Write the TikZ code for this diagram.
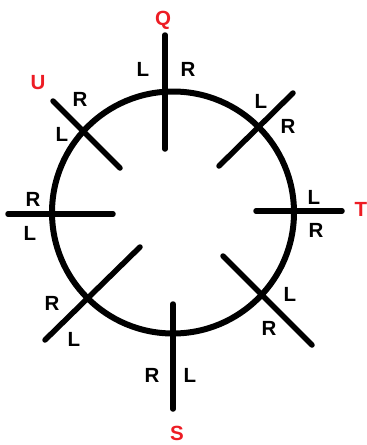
\documentclass[tikz,border=0pt]{standalone}
\usepackage{fontspec}
\setmainfont{Liberation Sans}
\definecolor{seatred}{RGB}{237,28,36}
\tikzset{
  ring/.style={draw,line width=6pt},
  spoke/.style={draw,line width=5.5pt,line cap=round},
  side/.style={font=\bfseries\fontsize{20.5}{22}\selectfont,inner sep=0pt},
  seat/.style={side,text=seatred}
}

\begin{document}
\begin{tikzpicture}[x=1pt,y=-1pt]
  \useasboundingbox (0,0) rectangle (367,445);
  \coordinate (O) at (173,212.5);
  \draw[ring] (O) circle [radius=121];

  % spokes, outer end to inner end
  \coordinate (qo) at (165,35);   \coordinate (qi) at (165,149);
  \coordinate (neo) at (293,93);  \coordinate (nei) at (219,166);
  \coordinate (to) at (342,211);  \coordinate (ti) at (256,211);
  \coordinate (seo) at (312,345); \coordinate (sei) at (223,256);
  \coordinate (so) at (173,409);  \coordinate (si) at (173,304);
  \coordinate (swo) at (45,340);  \coordinate (swi) at (140,247);
  \coordinate (wo) at (8,214);    \coordinate (wi) at (113,214);
  \coordinate (uo) at (53,101);   \coordinate (ui) at (120,168);
  \draw[spoke] (qo) -- (qi);
  \draw[spoke] (neo) -- (nei);
  \draw[spoke] (to) -- (ti);
  \draw[spoke] (seo) -- (sei);
  \draw[spoke] (so) -- (si);
  \draw[spoke] (swo) -- (swi);
  \draw[spoke] (wo) -- (wi);
  \draw[spoke] (uo) -- (ui);

  % seats
  \node[seat] (Q) at (163,20) {Q};
  \node[seat] (T) at (361,209) {T};
  \node[seat] (S) at (177,433) {S};
  \node[seat] (U) at (38,83) {U};

  % left / right marks
  \node[side] (qL) at (143,69) {L};   \node[side] (qR) at (188,69) {R};
  \node[side] (neL) at (261,101) {L}; \node[side] (neR) at (288,126) {R};
  \node[side] (tL) at (314,197) {L};  \node[side] (tR) at (316,230) {R};
  \node[side] (seL) at (290,294) {L}; \node[side] (seR) at (269,328) {R};
  \node[side] (sR) at (152,375) {R};  \node[side] (sL) at (190,375) {L};
  \node[side] (swR) at (52,303) {R};  \node[side] (swL) at (74,339) {L};
  \node[side] (wR) at (33,199) {R};   \node[side] (wL) at (30,233) {L};
  \node[side] (uR) at (80,99) {R};    \node[side] (uL) at (62,134) {L};
\end{tikzpicture}
\end{document}
